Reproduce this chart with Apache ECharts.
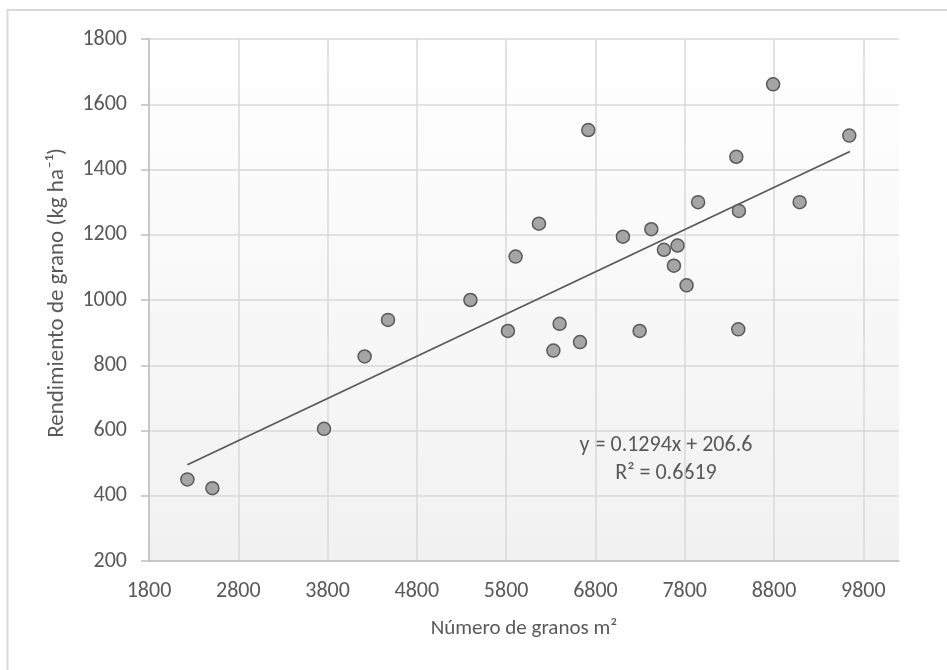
<!DOCTYPE html>
<html>
<head>
<meta charset="utf-8">
<script src="https://cdn.jsdelivr.net/npm/echarts@6/dist/echarts.min.js"></script>
<style>
  html, body { margin: 0; padding: 0; background: #fff; }
  #chart { width: 947px; height: 670px; }
</style>
</head>
<body>
<div id="chart"></div>
<script>
  // granos por m2 vs rendimiento (kg/ha)
  var granos = [2230, 2510, 3760, 4215, 4477, 5400, 5820, 5906, 6167, 6329, 6399, 6627, 6720,
    7108, 7295, 7426, 7567, 7679, 7720, 7821, 7950, 8378, 8400, 8407, 8790, 9087, 9643];
  var rendimiento = [450, 423, 605, 827, 939, 1000, 905, 1133, 1234, 845, 927, 871, 1521,
    1194, 905, 1217, 1154, 1105, 1167, 1045, 1300, 1439, 910, 1273, 1661, 1300, 1504];

  // linea de tendencia (Excel): y = 0.1294x + 206.6
  var pendiente = 0.1294;
  var intercepto = 206.6;
  var tendX = [2230, 9650];

  var xTicks = { min: 1800, max: 10200, interval: 1000 };
  var yTicks = { min: 200, max: 1800, interval: 200 };

  var font = 'Carlito, Calibri, "Open Sans", sans-serif';
  var gris = '#595959';
  var fs = 22;

  var puntos = granos.map(function (g, i) { return [g, rendimiento[i]]; });
  var tendencia = tendX.map(function (x) { return [x, pendiente * x + intercepto]; });

  function sinComa(v) { return String(v); }

  var chart = echarts.init(document.getElementById('chart'));
  chart.setOption({
    animation: false,
    backgroundColor: '#fff',
    grid: {
      left: 149, top: 39, right: 48, bottom: 109,
      show: true, borderWidth: 0,
      backgroundColor: new echarts.graphic.LinearGradient(0, 0, 0, 1, [
        { offset: 0, color: '#ffffff' },
        { offset: 1, color: '#f1f1f1' }
      ])
    },
    xAxis: {
      type: 'value',
      min: xTicks.min, max: xTicks.max, interval: xTicks.interval,
      name: 'Número de granos m²',
      nameLocation: 'middle',
      nameGap: 57,
      nameTextStyle: { color: gris, fontSize: 21, fontFamily: font },
      axisLine: { show: true, onZero: false, lineStyle: { color: '#bfbfbf', width: 1.5 } },
      axisTick: { show: false },
      axisLabel: { color: gris, fontSize: fs, fontFamily: font, margin: 19, showMaxLabel: false, formatter: sinComa },
      splitLine: { show: true, showMaxLine: false, lineStyle: { color: '#d9d9d9', width: 1.5 } }
    },
    yAxis: {
      type: 'value',
      min: yTicks.min, max: yTicks.max, interval: yTicks.interval,
      name: 'Rendimiento de grano (kg ha⁻¹)',
      nameLocation: 'middle',
      nameGap: 80,
      nameTextStyle: { color: gris, fontSize: 23, fontFamily: font, padding: [0, 0, 0, 14] },
      axisLine: { show: true, lineStyle: { color: '#bfbfbf', width: 1.5 } },
      axisTick: { show: true, length: 8, lineStyle: { color: '#bfbfbf', width: 1.5 } },
      axisLabel: { color: gris, fontSize: fs, fontFamily: font, margin: 22, formatter: sinComa },
      splitLine: { show: true, lineStyle: { color: '#d9d9d9', width: 1.5 } }
    },
    series: [
      {
        type: 'line',
        data: tendencia,
        symbol: 'none',
        lineStyle: { color: gris, width: 1.8 },
        silent: true,
        z: 2
      },
      {
        type: 'scatter',
        data: puntos,
        symbolSize: 13,
        itemStyle: { color: '#a5a5a5', borderColor: '#595959', borderWidth: 1.5, opacity: 1 },
        z: 3
      }
    ],
    graphic: [
      {
        type: 'rect',
        shape: { x: 7.5, y: 10, width: 1000, height: 700 },
        style: { fill: 'none', stroke: '#d9d9d9', lineWidth: 2 },
        silent: true
      },
      {
        type: 'text',
        x: 666, y: 431,
        style: {
          text: 'y = 0.1294x + 206.6\nR² = 0.6619',
          fill: gris, font: fs + 'px ' + font,
          align: 'center', verticalAlign: 'top', lineHeight: 28
        }
      }
    ]
  });
</script>
</body>
</html>
